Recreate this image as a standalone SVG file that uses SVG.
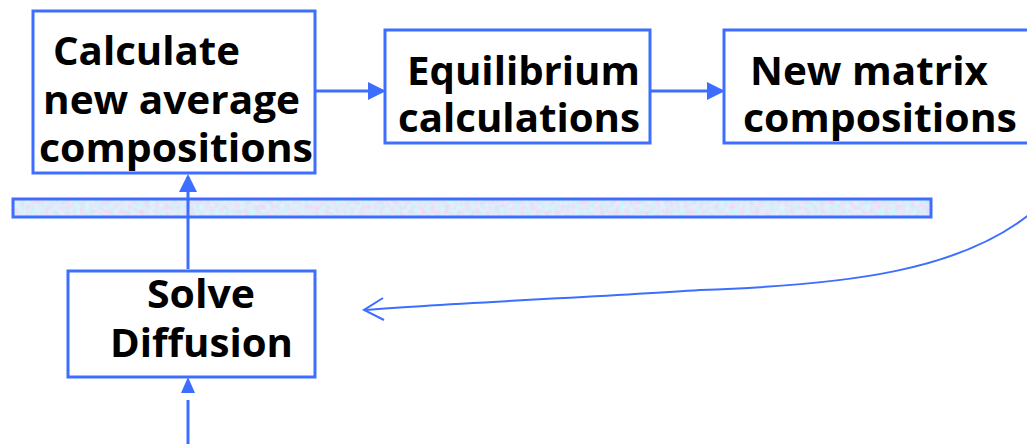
<svg xmlns="http://www.w3.org/2000/svg" width="1027" height="444" viewBox="0 0 1027 444">
<style>
.box{fill:#fff;stroke:#3d6eff;stroke-width:3}
.t{font-family:"Open Sans",Lato,"Liberation Sans",sans-serif;font-weight:bold;font-size:39px;fill:#000;font-variant-ligatures:none}
.c{stroke:#3d6eff;stroke-width:3;fill:none}
.cv{stroke:#3d6eff;stroke-width:2;fill:none}
</style>
<defs>
<marker id="ah" markerWidth="6" markerHeight="6" refX="5" refY="3" orient="auto" markerUnits="strokeWidth"><path d="M0,0 L6,3 L0,6 z" fill="#3d6eff"/></marker>
<filter id="tex" x="0" y="0" width="1" height="1"><feTurbulence type="fractalNoise" baseFrequency="0.2" numOctaves="2" seed="5" result="n"/><feColorMatrix in="n" type="matrix" values="0.6 -0.35 0 0 0.62  -0.25 0.45 0 0 0.72  0 0 0.1 0 0.9  0 0 0 0 1"/><feComposite in2="SourceGraphic" operator="in"/></filter>
</defs>
<g id="bar"><rect x="13" y="199" width="918" height="18" fill="#c4d2f6" filter="url(#tex)"/><rect x="13" y="199" width="918" height="18" fill="none" stroke="#3d6eff" stroke-width="3"/></g>
<g id="connectors">
<line class="c" x1="315" y1="91" x2="383" y2="91" marker-end="url(#ah)"/>
<line class="c" x1="650" y1="91" x2="722" y2="91" marker-end="url(#ah)"/>
<line class="c" x1="188" y1="269" x2="188" y2="177" marker-end="url(#ah)"/>
<line class="c" x1="188" y1="444" x2="188" y2="400"/>
<path d="M181,393 L188,377 L195,393 z" fill="#3d6eff"/>
<path class="cv" d="M1030,214 C960,270 850,285 700,290 C600,297 450,303 364,310"/>
<path class="cv" d="M383,298 L364,310 L384,320"/>
</g>
<g id="calc"><rect class="box" x="33" y="11" width="282" height="162"/>
<text class="t" x="53" y="65" textLength="187" lengthAdjust="spacingAndGlyphs">Calculate</text>
<text class="t" x="43" y="114" textLength="257" lengthAdjust="spacingAndGlyphs">new average</text>
<text class="t" x="39" y="162" textLength="274" lengthAdjust="spacingAndGlyphs">compositions</text></g>
<g id="equil"><rect class="box" x="385" y="30" width="265" height="113"/>
<text class="t" x="407" y="85" textLength="233" lengthAdjust="spacingAndGlyphs">Equilibrium</text>
<text class="t" x="398" y="132" textLength="242" lengthAdjust="spacingAndGlyphs">calculations</text></g>
<g id="newmat"><rect class="box" x="724" y="30" width="320" height="113"/>
<text class="t" x="750" y="85" textLength="238" lengthAdjust="spacingAndGlyphs">New matrix</text>
<text class="t" x="743" y="132" textLength="274" lengthAdjust="spacingAndGlyphs">compositions</text></g>
<g id="solve"><rect class="box" x="68" y="271" width="247" height="106"/>
<text class="t" x="147" y="308" textLength="108" lengthAdjust="spacingAndGlyphs">Solve</text>
<text class="t" x="110" y="357" textLength="183" lengthAdjust="spacingAndGlyphs">Diffusion</text></g>
</svg>
